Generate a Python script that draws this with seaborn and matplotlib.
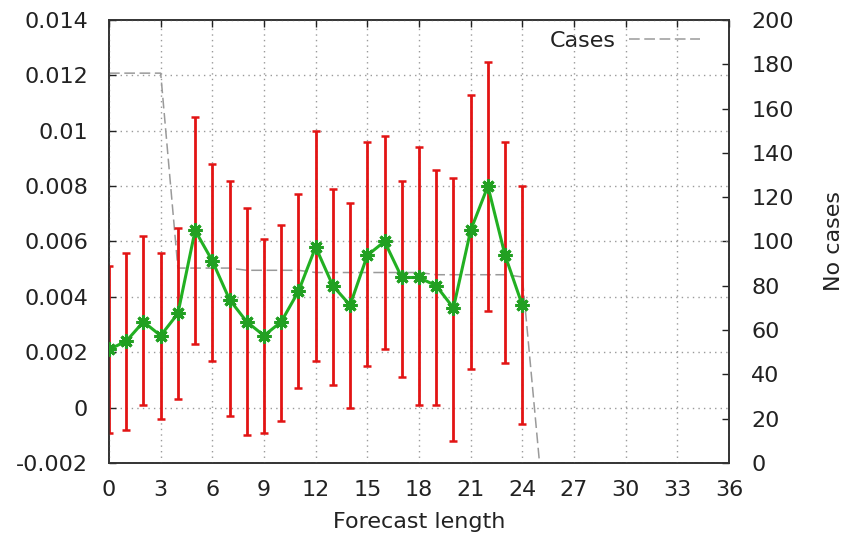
import matplotlib
matplotlib.use("Agg")
import matplotlib.pyplot as plt
import numpy as np
import pandas as pd
import seaborn as sns

# Forecast error statistics per forecast length (hours)
lead = list(range(0, 25))
mean_err = [0.0021, 0.0024, 0.0031, 0.0026, 0.0034, 0.0064, 0.0053, 0.0039,
            0.0031, 0.0026, 0.0031, 0.0042, 0.0058, 0.0044, 0.0037, 0.0055,
            0.0060, 0.0047, 0.0047, 0.0044, 0.0036, 0.0064, 0.0080, 0.0055,
            0.0037]
err_high = [0.0051, 0.0056, 0.0062, 0.0056, 0.0065, 0.0105, 0.0088, 0.0082,
            0.0072, 0.0061, 0.0066, 0.0077, 0.0100, 0.0079, 0.0074, 0.0096,
            0.0098, 0.0082, 0.0094, 0.0086, 0.0083, 0.0113, 0.0125, 0.0096,
            0.0080]
err_low = [-0.0009, -0.0008, 0.0001, -0.0004, 0.0003, 0.0023, 0.0017, -0.0003,
           -0.0010, -0.0009, -0.0005, 0.0007, 0.0017, 0.0008, 0.0000, 0.0015,
           0.0021, 0.0011, 0.0001, 0.0001, -0.0012, 0.0014, 0.0035, 0.0016,
           -0.0006]

# Number of cases available per forecast length
case_lead = list(range(0, 37))
cases = [176, 176, 176, 176, 88, 88, 88, 88, 87, 87, 87, 87, 86, 86, 86, 86,
         86, 86, 86, 85, 85, 85, 85, 85, 84, 0, 0, 0, 0, 0, 0, 0, 0, 0, 0, 0, 0]

x_ticks = list(range(0, 37, 3))
y_ticks = [-0.002, 0, 0.002, 0.004, 0.006, 0.008, 0.01, 0.012, 0.014]
y2_ticks = list(range(0, 201, 20))

sns.set_theme(style="white")
plt.rcParams["font.family"] = ["DejaVu Sans"]
plt.rcParams["font.size"] = 16

TEXT = "#222222"
SPINE = "#333333"

df = pd.DataFrame({"lead": lead, "mean": mean_err,
                   "low": err_low, "high": err_high})
dc = pd.DataFrame({"lead": case_lead, "cases": cases})

fig = plt.figure(figsize=(8.57, 5.43), dpi=100)
ax = fig.add_axes([0.1272, 0.1473, 0.7234, 0.8159])
ax2 = ax.twinx()
ax.set_zorder(ax2.get_zorder() + 1)
ax.patch.set_visible(False)

# Cases on the secondary axis
sns.lineplot(data=dc, x="lead", y="cases", ax=ax2, color="#9a9a9a",
             linewidth=1.1, dashes=False, label="Cases", legend=False)
ax2.lines[0].set_dashes((7, 3))

# Error bars and mean error
ax.errorbar(df["lead"], df["mean"],
            yerr=[df["mean"] - df["low"], df["high"] - df["mean"]],
            fmt="none", ecolor="#e21414", elinewidth=2.0, capsize=3,
            capthick=1.8, zorder=2)
sns.lineplot(data=df, x="lead", y="mean", ax=ax, color="#22b022",
             linewidth=2.2, marker=(8, 2, 0), markersize=10,
             markeredgewidth=2.2, markeredgecolor="#22a022", zorder=3)

ax.set_xlim(0, 36)
ax.set_ylim(-0.002, 0.014)
ax2.set_ylim(0, 200)
ax.set_xticks(x_ticks)
ax.set_yticks(y_ticks)
ax.set_yticklabels(["%g" % v for v in y_ticks])
ax2.set_yticks(y2_ticks)

ax.grid(True, linestyle=(0, (1, 3)), color="#9a9a9a", linewidth=1.0)
ax.set_axisbelow(True)

ax.tick_params(axis="x", direction="in", length=5, width=1, top=True,
               pad=12, colors=TEXT, labelsize=16)
ax.tick_params(axis="y", direction="in", length=5, width=1, pad=15,
               colors=TEXT, labelsize=16)
ax2.tick_params(axis="y", direction="in", length=5, width=1, pad=16,
                colors=TEXT, labelsize=16)

for a in (ax, ax2):
    for s in a.spines.values():
        s.set_color(SPINE)
        s.set_linewidth(1.2)

ax.set_xlabel("Forecast length", color=TEXT, fontsize=16, labelpad=9)
ax.set_ylabel("")
ax2.set_ylabel("No cases", color=TEXT, fontsize=16, labelpad=22)

leg = ax2.legend(loc="upper right", bbox_to_anchor=(0.986, 1.021),
                 frameon=False, markerfirst=False, handlelength=3.2,
                 handletextpad=0.6, fontsize=16)
for t in leg.get_texts():
    t.set_color(TEXT)

fig.savefig("out.png", dpi=100)
